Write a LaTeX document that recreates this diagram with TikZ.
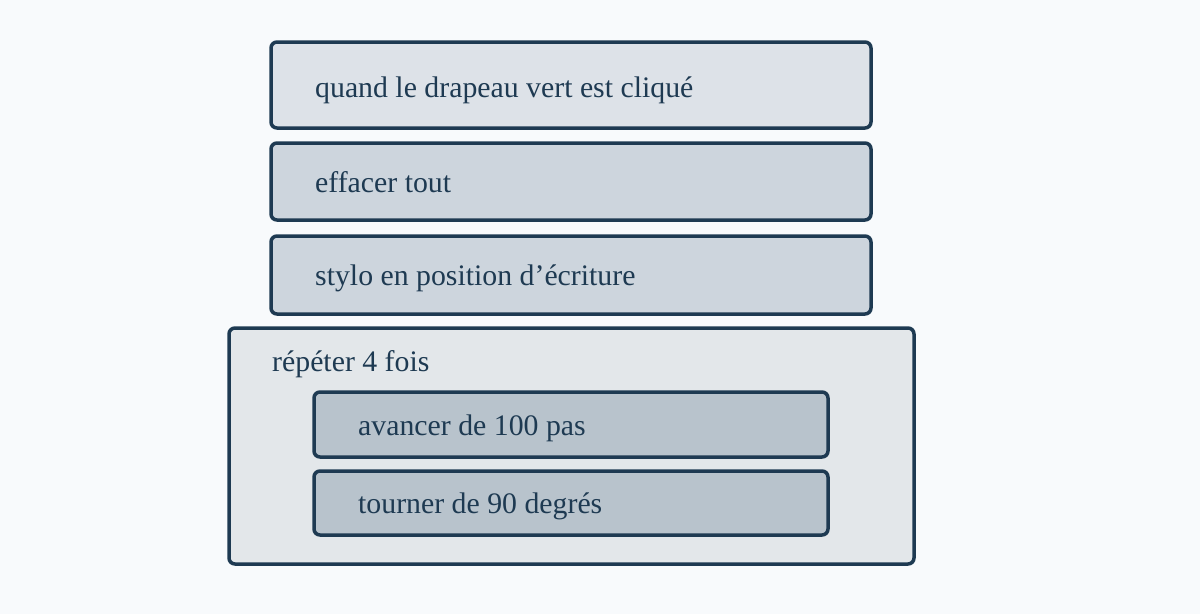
\documentclass[tikz,border=0pt]{standalone}
\usepackage{fontspec}
\setmainfont{Liberation Serif}
\definecolor{bg}{HTML}{F8FAFC}
\definecolor{ink}{HTML}{1E3A52}
\definecolor{fa}{HTML}{DDE2E8}
\definecolor{fb}{HTML}{CDD5DD}
\definecolor{fo}{HTML}{E3E7EA}
\definecolor{fi}{HTML}{B8C3CC}
\begin{document}
\begin{tikzpicture}[x=1pt,y=-1pt,
  blk/.style={draw=ink,line width=3.5pt,rounded corners=6pt,anchor=north west,inner sep=0pt,outer sep=0pt},
  lbl/.style={anchor=base west,inner sep=0pt,text=ink,font=\fontsize{29.8}{34}\selectfont}]
\fill[bg] (0,0) rectangle (1200,614);
\useasboundingbox (0,0) rectangle (1200,614);
\node[blk,fill=fa,minimum width=600pt,minimum height=86pt] (b1) at (271,42) {};
\node[blk,fill=fb,minimum width=600pt,minimum height=77pt] (b2) at (271,143) {};
\node[blk,fill=fb,minimum width=600pt,minimum height=78pt] (b3) at (271,236) {};
\node[blk,fill=fo,minimum width=685pt,minimum height=236pt] (b4) at (229,328) {};
\node[blk,fill=fi,minimum width=514pt,minimum height=65pt] (b5) at (314,392) {};
\node[blk,fill=fi,minimum width=514pt,minimum height=64pt] (b6) at (314,471) {};
\node[lbl] (t1) at (315,97) {quand le drapeau vert est cliqué};
\node[lbl] (t2) at (315,192) {effacer tout};
\node[lbl] (t3) at (315,285) {stylo en position d’écriture};
\node[lbl] (t4) at (272,371) {répéter 4 fois};
\node[lbl] (t5) at (358,435) {avancer de 100 pas};
\node[lbl] (t6) at (358,513) {tourner de 90 degrés};
\end{tikzpicture}
\end{document}
